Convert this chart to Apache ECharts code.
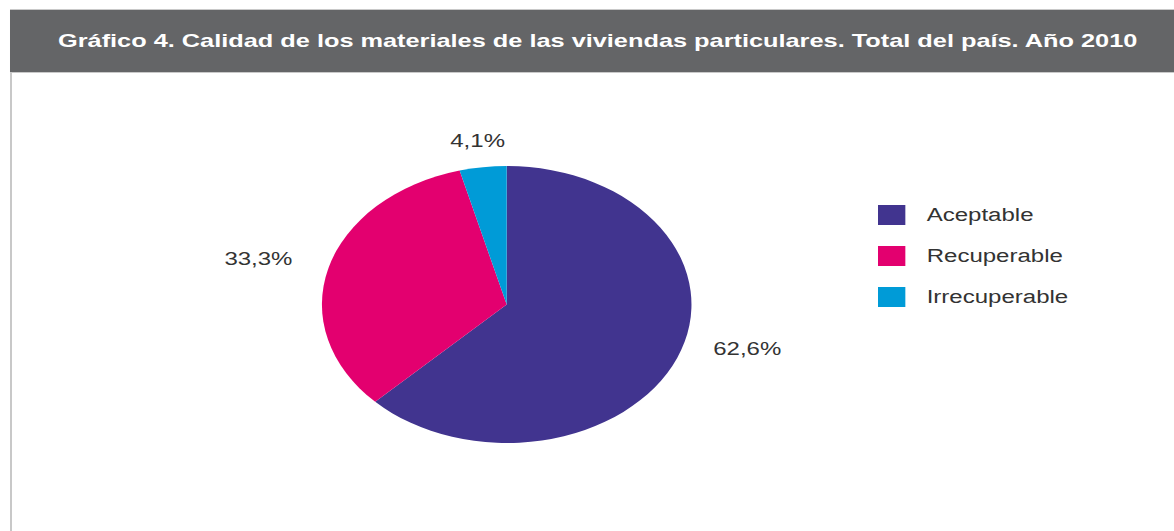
<!DOCTYPE html>
<html><head><meta charset="utf-8">
<script src="https://cdn.jsdelivr.net/npm/echarts@6/dist/echarts.min.js"></script>
<style>
html,body{margin:0;padding:0;background:#fff;overflow:hidden;width:1174px;height:531px;}
#wrap{width:1174px;height:531px;overflow:hidden;position:relative;}
#chart{width:880px;height:531px;transform:scaleX(1.334091);transform-origin:0 0;}
</style></head><body><div id="wrap"><div id="chart"></div></div>
<script>
const categories = ['Aceptable', 'Recuperable', 'Irrecuperable'];
const values = [62.6, 33.3, 4.1];
const valueLabels = ['62,6%', '33,3%', '4,1%'];
const colors = ['#41348f', '#e3006f', '#009bd7'];
const titleText = 'Gráfico 4. Calidad de los materiales de las viviendas particulares. Total del país. Año 2010';

const SX = 1174 / 880;
const CX = 506.7 / SX, CY = 304.5, R = 138.5;
const total = values.reduce((a, b) => a + b, 0);
function midAngle(i) {
  let before = 0;
  for (let k = 0; k < i; k++) before += values[k];
  return -Math.PI / 2 + ((before + values[i] / 2) / total) * 2 * Math.PI;
}
const FONT = '"Liberation Sans", Arial, Helvetica, sans-serif';
const chart = echarts.init(document.getElementById('chart'), null, { renderer: 'svg' });
chart.setOption({
  animation: false,
  backgroundColor: '#ffffff',
  title: {
    text: titleText,
    left: 58 / SX,
    top: 31,
    padding: 0,
    textStyle: { color: '#ffffff', fontSize: 19, fontWeight: 'bold', fontFamily: FONT }
  },
  graphic: [
    { type: 'rect', z: -1, shape: { x: 10 / SX, y: 9, width: 900, height: 64 }, style: { fill: '#c9c9c9' }, silent: true },
    { type: 'rect', z: -1, shape: { x: 10 / SX, y: 10, width: 900, height: 62 }, style: { fill: '#646567' }, silent: true },
    { type: 'rect', z: -1, shape: { x: 10 / SX, y: 73, width: 1.5, height: 470 }, style: { fill: '#c8c8c8' }, silent: true }
  ],
  legend: {
    orient: 'vertical',
    left: 878 / SX,
    top: 205,
    padding: 0,
    icon: 'rect',
    itemWidth: 20.5,
    itemHeight: 20,
    itemGap: 21,
    data: categories,
    textStyle: { fontSize: 18, color: '#333', fontFamily: FONT, padding: [0, 0, 0, 11] }
  },
  series: [{
    type: 'pie',
    center: [CX, CY],
    radius: R,
    startAngle: 90,
    clockwise: true,
    emphasis: { disabled: true },
    itemStyle: { borderWidth: 0 },
    label: {
      show: true,
      position: 'outside',
      fontSize: 18,
      color: '#333',
      fontFamily: FONT,
      formatter: p => valueLabels[p.dataIndex]
    },
    labelLine: { show: false },
    labelLayout: function (params) {
      const a = midAngle(params.dataIndex);
      const c = Math.cos(a), s = Math.sin(a);
      const ex = CX + R * c, ey = CY + R * s;
      const w = params.labelRect.width, h = params.labelRect.height;
      if (Math.abs(c) > 0.5) {
        return { x: ex + Math.sign(c) * (27 + w / 2), y: ey - 9, align: 'center', verticalAlign: 'middle' };
      }
      return { x: ex - 4, y: ey + Math.sign(s) * (18 + h / 2), align: 'center', verticalAlign: 'middle' };
    },
    data: categories.map((n, i) => ({ name: n, value: values[i], itemStyle: { color: colors[i] } }))
  }]
});
</script></body></html>
